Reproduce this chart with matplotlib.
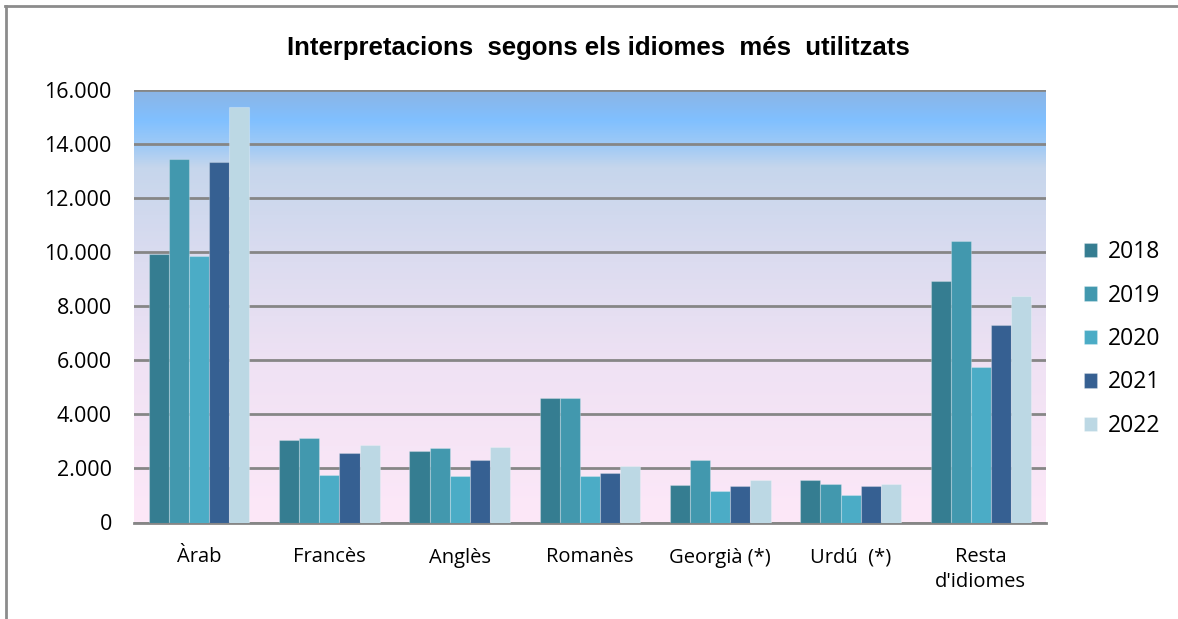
'Interpretacions segons els idiomes més utilitzats - grouped bar chart'

import matplotlib.pyplot as plt
import numpy as np
import matplotlib
from matplotlib.colors import LinearSegmentedColormap
from matplotlib.lines import Line2D

categories = ['Àrab', 'Francès', 'Anglès', 'Romanès', 'Georgià (*)', 'Urdú  (*)', "Resta\nd'idiomes"]
years = ['2018', '2019', '2020', '2021', '2022']

v2018 = [9950, 3040, 2650, 4600, 1400, 1570, 8930]
v2019 = [13450, 3120, 2770, 4600, 2310, 1440, 10410]
v2020 = [9860, 1770, 1710, 1720, 1180, 1000, 5770]
v2021 = [13320, 2560, 2300, 1820, 1350, 1350, 7300]
v2022 = [15380, 2850, 2810, 2090, 1570, 1440, 8390]

colors = ['#357d91', '#4298ae', '#4bacc6', '#366092', '#bcd8e4']

series = [v2018, v2019, v2020, v2021, v2022]

W, H = 1178, 619
fig = plt.figure(figsize=(W/100, H/100), dpi=100)
ax = fig.add_axes([134/W, 1-522.5/H, 912/W, 432.5/H])

#background gradient of the plot area (bottom -> top)
grad = LinearSegmentedColormap.from_list('bg', [
    (0.0, '#fde8f8'), (0.35, '#f0e2f4'), (0.6, '#dcdcf0'),
    (0.82, '#c6d6ec'), (0.86, '#a6ccf4'), (0.93, '#80c0ff'), (1.0, '#8cb4e4')])
ax.imshow(np.linspace(0, 1, 256)[:, None], aspect='auto', cmap=grad,
          origin='lower', extent=[-0.5, 6.5, 0, 16000], zorder=0)

x = np.arange(len(categories))
bw = 0.1546
for i, (yr, vals) in enumerate(zip(years, series)):
    ax.bar(x + (i-2)*bw, vals, width=bw, color=colors[i], label=yr,
           edgecolor=matplotlib.colors.to_rgba('white', 0.25), linewidth=0.8, zorder=3)

ax.set_xlim(-0.5, 6.5)
ax.set_ylim(0, 16000)
ax.set_yticks(np.arange(0, 16001, 2000))
ax.get_yaxis().set_major_formatter(
    matplotlib.ticker.FuncFormatter(lambda v, p: format(int(v), ',').replace(',', '.')))
ax.set_xticks(x)
ax.set_xticklabels(categories, fontsize=14.5, family='Open Sans', linespacing=1.3)
for t in ax.get_yticklabels():
    t.set_fontsize(15.5)
    t.set_family('Open Sans')
ax.tick_params(axis='x', length=0, pad=18)
ax.tick_params(axis='y', length=0, pad=16)
ax.grid(axis='y', color='#868686', lw=2, zorder=1)
for s in ['left', 'right', 'top']:
    ax.spines[s].set_visible(False)
ax.spines['bottom'].set_color('#868686')
ax.spines['bottom'].set_linewidth(2)

fig.text(598/W, 1-48/H, 'Interpretacions  segons els idiomes  més  utilitzats',
         ha='center', va='center', fontsize=18.5, fontweight='bold',
         family='Liberation Sans')

leg = ax.legend(loc='center left', bbox_to_anchor=(1063/W, 1-339/H), bbox_transform=fig.transFigure,
                frameon=False, handlelength=0.6, handleheight=0.6,
                handletextpad=0.45, labelspacing=0.85, prop={'family': 'Open Sans', 'size': 16.5})

#outer frame (top and left only)
fig.add_artist(Line2D([5/W, 1], [1-6/H, 1-6/H], transform=fig.transFigure, color='#8c8c8c', lw=2))
fig.add_artist(Line2D([6/W, 6/W], [0, 1-6/H], transform=fig.transFigure, color='#8c8c8c', lw=2))

plt.savefig('out.png', dpi=100)
